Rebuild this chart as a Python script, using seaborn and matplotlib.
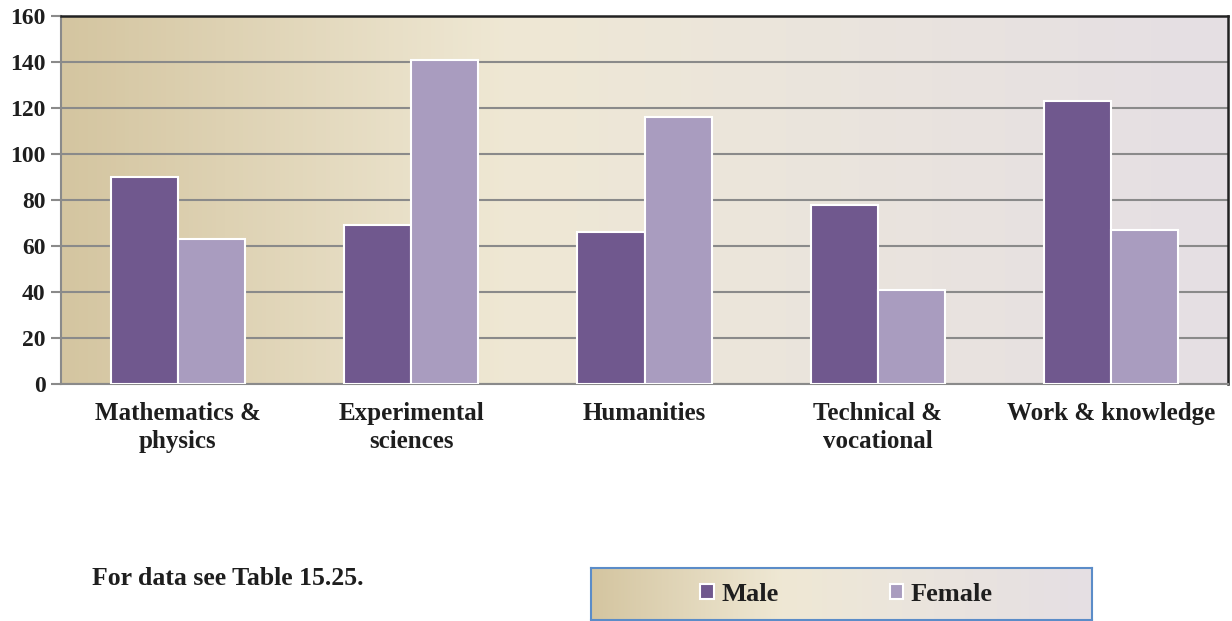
import numpy as np
import pandas as pd
import matplotlib
matplotlib.use("Agg")
import matplotlib.pyplot as plt
from matplotlib.colors import LinearSegmentedColormap
import seaborn as sns

categories = ["Mathematics &\nphysics", "Experimental\nsciences", "Humanities",
              "Technical &\nvocational", "Work & knowledge"]
male = [90, 69, 66, 78, 123]
female = [63, 141, 116, 41, 67]
series = ["Male", "Female"]
yticks = [0, 20, 40, 60, 80, 100, 120, 140, 160]

df = pd.DataFrame({
    "category": categories * 2,
    "value": male + female,
    "sex": ["Male"] * len(categories) + ["Female"] * len(categories),
})

sns.set_theme(style="white")
plt.rcParams["font.family"] = ["Liberation Serif", "DejaVu Serif"]
plt.rcParams["font.weight"] = "bold"
plt.rcParams["text.color"] = "#1e1e1e"

fig = plt.figure(figsize=(12.32, 6.21), dpi=100)
ax = fig.add_axes([0.0495, 0.3816, 0.9473, 0.5926])

grad = LinearSegmentedColormap.from_list(
    "bg", [(0.0, "#d4c5a0"), (0.38, "#efe8d4"), (0.62, "#ebe5dc"), (1.0, "#e5dfe4")])
g = np.linspace(0, 1, 256).reshape(1, -1)

ax.imshow(g, cmap=grad, aspect="auto", extent=(-0.5, 4.5, 0, 160), zorder=0)

sns.barplot(data=df, x="category", y="value", hue="sex", hue_order=series,
            palette={"Male": "#70588e", "Female": "#a99cbf"},
            width=0.575, edgecolor="white", linewidth=1.5, saturation=1,
            ax=ax, zorder=3)

ax.set_xlim(-0.5, 4.5)
ax.set_ylim(0, 160)
ax.set_yticks(yticks)
ax.set_yticklabels([str(v) for v in yticks], fontsize=17, fontweight="bold",
                   color="#1e1e1e")
ax.set_xticklabels(categories, fontsize=18, fontweight="bold", linespacing=1.3,
                   color="#1e1e1e")
ax.set_xlabel("")
ax.set_ylabel("")
ax.yaxis.grid(True, color="#8a8a8a", linewidth=1.5, zorder=1)
ax.set_axisbelow(True)
for gl in ax.get_ygridlines():
    gl.set_zorder(1)

ax.tick_params(axis="x", which="major", length=0, pad=13)
ax.set_xticks(np.arange(-0.5, 5, 1.0), minor=True)
ax.tick_params(axis="x", which="minor", length=7, width=1.5, color="#8a8a8a")
ax.tick_params(axis="y", length=7, width=1.5, color="#8a8a8a", pad=4, left=True)

for s in ["left", "bottom"]:
    ax.spines[s].set_color("#8a8a8a")
    ax.spines[s].set_linewidth(1.5)
for s in ["top", "right"]:
    ax.spines[s].set_color("#222222")
    ax.spines[s].set_linewidth(1.8)
    ax.spines[s].set_visible(True)

handles, labels = ax.get_legend_handles_labels()
if ax.get_legend() is not None:
    ax.get_legend().remove()

lax = fig.add_axes([0.4797, 0.0016, 0.4067, 0.0837])
lax.imshow(g, cmap=grad, aspect="auto", extent=(0, 1, 0, 1), zorder=0)
lax.set_xlim(0, 1)
lax.set_ylim(0, 1)
lax.set_xticks([])
lax.set_yticks([])
for s in lax.spines.values():
    s.set_color("#5b8cc8")
    s.set_linewidth(1.5)
leg = lax.legend(handles, labels, loc="center", ncol=2, frameon=False,
                 prop={"family": "Liberation Serif", "weight": "bold", "size": 19},
                 handlelength=0.5, handleheight=0.5, handletextpad=0.3,
                 columnspacing=4.2, bbox_to_anchor=(0.51, 0.5))
for h in leg.legend_handles:
    h.set_edgecolor("white")
    h.set_linewidth(1.5)

fig.text(0.0747, 0.069, "For data see Table 15.25.", fontsize=18.5,
         fontweight="bold", va="center", ha="left")

fig.savefig("out.png", dpi=100)
